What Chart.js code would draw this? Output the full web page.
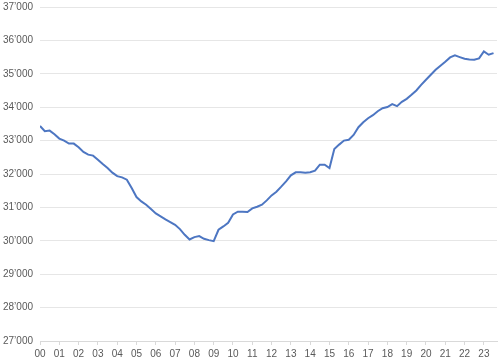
<!DOCTYPE html>
<html>
<head>
<meta charset="utf-8">
<script src="https://cdn.jsdelivr.net/npm/chart.js@4/dist/chart.umd.min.js"></script>
<style>
  html, body { margin: 0; padding: 0; background: #fff; }
  #wrap { width: 500px; height: 363px; position: relative; }
</style>
</head>
<body>
<div id="wrap"><canvas id="lineChart"></canvas></div>
<script>
// quarterly series, 2000 Q1 .. 2023 Q3
const startYear = 2000;
const quarterValues = [
  33440, 33280, 33300, 33190, 33060, 33000, 32910, 32910,
  32800, 32660, 32580, 32550, 32430, 32300, 32180, 32040,
  31935, 31900, 31830, 31580, 31310, 31180, 31080, 30950,
  30820, 30730, 30640, 30560, 30480, 30350, 30180, 30040,
  30110, 30140, 30060, 30020, 29990, 30330, 30430, 30540,
  30790, 30870, 30870, 30860, 30970, 31020, 31080, 31210,
  31360, 31470, 31620, 31780, 31960, 32050, 32050, 32040,
  32055, 32100, 32280, 32280, 32180, 32750, 32880, 33000,
  33025, 33170, 33400, 33550, 33670, 33760, 33880, 33970,
  34005, 34090, 34030, 34160, 34250, 34370, 34500, 34670,
  34820, 34970, 35120, 35240, 35360, 35490, 35550, 35500,
  35450, 35430, 35420, 35460, 35670, 35570, 35620
];
const yearLabels = ['00','01','02','03','04','05','06','07','08','09','10','11',
  '12','13','14','15','16','17','18','19','20','21','22','23'];
const yTicks = [27000, 28000, 29000, 30000, 31000, 32000, 33000, 34000, 35000, 36000, 37000];

const points = quarterValues.map((v, i) => ({ x: startYear + i / 4, y: v }));

const fmt = v => {
  const s = String(Math.round(v));
  return s.slice(0, s.length - 3) + '\u2019' + s.slice(-3);
};

const data = {
  datasets: [{
    data: points,
    borderColor: '#4d76c2',
    borderWidth: 2,
    pointRadius: 0,
    tension: 0,
    fill: false
  }]
};

const config = {
  type: 'line',
  data,
  options: {
    responsive: true,
    maintainAspectRatio: false,
    animation: false,
    layout: { padding: { left: 0, right: 3, top: 7, bottom: 0 } },
    plugins: {
      legend: { display: false },
      tooltip: { enabled: false }
    },
    scales: {
      x: {
        type: 'linear',
        min: startYear,
        max: startYear + 23.68,
        afterBuildTicks: axis => {
          axis.ticks = yearLabels.map((l, i) => ({ value: startYear + i }));
        },
        afterFit: axis => {
          axis.height = 22;
          axis.paddingLeft = 0;
          axis.paddingRight = 0;
        },
        grid: {
          drawOnChartArea: false,
          drawTicks: true,
          tickLength: 4,
          color: '#d9d9d9'
        },
        border: { display: true, color: '#d9d9d9', width: 1 },
        ticks: {
          autoSkip: false,
          maxRotation: 0,
          padding: 3,
          color: '#595959',
          font: { family: 'Liberation Sans', size: 10 },
          callback: v => yearLabels[Math.round(v - startYear)]
        }
      },
      y: {
        min: 27000,
        max: 37000,
        afterBuildTicks: axis => {
          axis.ticks = yTicks.map(v => ({ value: v }));
        },
        afterFit: axis => {
          axis.width = 40;
          axis.paddingTop = 0;
          axis.paddingBottom = 0;
        },
        grid: {
          color: '#e6e6e6',
          drawTicks: false
        },
        border: { display: false },
        ticks: {
          padding: 7,
          color: '#595959',
          font: { family: 'Liberation Sans', size: 10 },
          callback: v => fmt(v)
        }
      }
    }
  }
};

const lineChart = new Chart(document.getElementById('lineChart'), config);
</script>
</body>
</html>
